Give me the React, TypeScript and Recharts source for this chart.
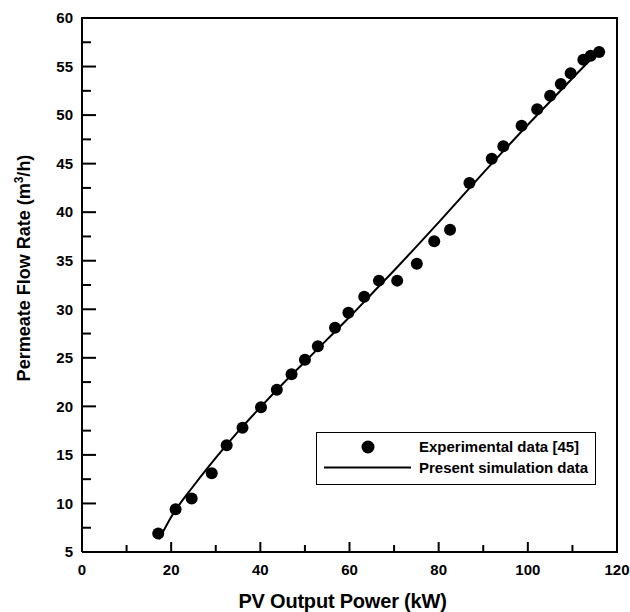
import React from 'react'
import { ComposedChart, Line, Scatter, XAxis, YAxis, Legend, Label } from 'recharts'

// experimental points
const powerExp = [17.1, 21.0, 24.6, 29.1, 32.45, 36.0, 40.15, 43.7, 47.0, 50.0, 52.9, 56.75, 59.75, 63.3, 66.6, 70.7, 75.1, 79.0, 82.55, 86.9, 91.9, 94.5, 98.6, 102.1, 105.0, 107.4, 109.6, 112.45, 114.1, 116.0]
const flowExp = [6.9, 9.4, 10.5, 13.1, 16.0, 17.8, 19.9, 21.7, 23.3, 24.8, 26.2, 28.1, 29.65, 31.3, 32.95, 32.95, 34.7, 37.0, 38.2, 43.0, 45.5, 46.8, 48.9, 50.6, 52.0, 53.2, 54.3, 55.7, 56.1, 56.5]

// simulation curve
const powerSim = [17.3, 20, 25, 30, 35, 40, 45, 50, 55, 60, 65, 70, 75, 80, 85, 90, 95, 100, 105, 110, 116]
const flowSim = [6.3, 8.6, 11.8, 14.7, 17.4, 19.9, 22.3, 24.6, 26.9, 29.2, 31.6, 34.0, 36.45, 38.95, 41.5, 44.05, 46.55, 49.0, 51.4, 53.8, 56.6]

const xTicks = [0, 10, 20, 30, 40, 50, 60, 70, 80, 90, 100, 110, 120]
const yTicks = [5, 7.5, 10, 12.5, 15, 17.5, 20, 22.5, 25, 27.5, 30, 32.5, 35, 37.5, 40, 42.5, 45, 47.5, 50, 52.5, 55, 57.5, 60]

const FONT = 'Arial, "Liberation Sans", Helvetica, sans-serif'

// layout
const W = 630
const H = 612
const MARGIN = { top: 18, right: 13, left: 22, bottom: 20 }
const Y_AXIS_W = 60
const X_AXIS_H = 40
const PLOT_X = MARGIN.left + Y_AXIS_W
const PLOT_W = W - MARGIN.left - MARGIN.right - Y_AXIS_W
const PLOT_H = H - MARGIN.top - MARGIN.bottom - X_AXIS_H

const expData = powerExp.map((p, i) => ({ power: p, flow: flowExp[i] }))
const simData = powerSim.map((p, i) => ({ power: p, flow: flowSim[i] }))

function XTick(props: any) {
  const { x, y, payload } = props
  const major = payload.value % 20 === 0
  const last = payload.value === xTicks[xTicks.length - 1]
  return (
    <g>
      <line x1={x} x2={x} y1={y} y2={y - (major ? 10 : 7)} stroke="#000" strokeWidth={2} />
      {last && <line x1={x} x2={x} y1={y + 1} y2={y - PLOT_H - 1} stroke="#000" strokeWidth={2} />}
      {major && (
        <text x={x} y={y + 22.5} textAnchor="middle" fontFamily={FONT} fontWeight="bold" fontSize={15} fill="#000">
          {payload.value}
        </text>
      )}
    </g>
  )
}

function YTick(props: any) {
  const { x, y, payload } = props
  const major = payload.value % 5 === 0
  const last = payload.value === yTicks[yTicks.length - 1]
  return (
    <g>
      <line x1={x} x2={x + (major ? 14 : 9)} y1={y} y2={y} stroke="#000" strokeWidth={2} />
      {last && <line x1={x - 1} x2={x + PLOT_W + 1} y1={y} y2={y} stroke="#000" strokeWidth={2} />}
      {major && (
        <text x={x - 9} y={y} dy="0.35em" textAnchor="end" fontFamily={FONT} fontWeight="bold" fontSize={15} fill="#000">
          {payload.value}
        </text>
      )}
    </g>
  )
}

function YTitle(props: any) {
  const { viewBox } = props
  const cx = viewBox.x + 8
  const cy = viewBox.y + viewBox.height / 2 - 17
  return (
    <text transform={`translate(${cx}, ${cy}) rotate(-90)`} textAnchor="middle" fontFamily={FONT} fontWeight="bold" fontSize={18} fill="#000">
      Permeate Flow Rate (m
      <tspan fontSize={12} dy={-7}>3</tspan>
      <tspan dy={7}>/h)</tspan>
    </text>
  )
}

function LegendBox() {
  return (
    <svg width={280} height={53} style={{ display: 'block' }}>
      <rect x={0.5} y={0.5} width={279} height={52} fill="#fff" stroke="#000" strokeWidth={1} />
      <circle cx={52} cy={15} r={6.5} fill="#000" />
      <text x={103} y={15} dy="0.35em" fontFamily={FONT} fontWeight="bold" fontSize={15} fill="#000">
        Experimental data [45]
      </text>
      <line x1={8} x2={95} y1={35.5} y2={35.5} stroke="#000" strokeWidth={2} />
      <text x={103} y={35.5} dy="0.35em" fontFamily={FONT} fontWeight="bold" fontSize={15} fill="#000">
        Present simulation data
      </text>
    </svg>
  )
}

export default function App() {
  return (
    <div style={{ position: 'absolute', left: 0, top: 0, width: W, height: H, background: '#fff' }}>
      <ComposedChart width={W} height={H} margin={MARGIN}>
        <XAxis
          dataKey="power"
          type="number"
          domain={[0, 120]}
          ticks={xTicks}
          interval={0}
          tickSize={0}
          tickMargin={0}
          tick={<XTick />}
          tickLine={false}
          height={X_AXIS_H}
          axisLine={{ stroke: '#000', strokeWidth: 2 }}
          allowDataOverflow
        >
          <Label
            value="PV Output Power (kW)"
            position="bottom"
            offset={2}
            dx={-7}
            style={{ fontFamily: FONT, fontWeight: 'bold', fontSize: 20, fill: '#000', letterSpacing: -0.2 }}
          />
        </XAxis>
        <YAxis
          dataKey="flow"
          type="number"
          domain={[5, 60]}
          ticks={yTicks}
          interval={0}
          tickSize={0}
          tickMargin={0}
          tick={<YTick />}
          tickLine={false}
          width={Y_AXIS_W}
          axisLine={{ stroke: '#000', strokeWidth: 2 }}
          allowDataOverflow
        >
          <Label content={<YTitle />} />
        </YAxis>
        <Legend
          layout="horizontal"
          verticalAlign="middle"
          align="center"
          wrapperStyle={{ left: 316, top: 432, width: 280, height: 53 }}
          content={() => <LegendBox />}
        />
        <Line
          data={simData}
          dataKey="flow"
          type="monotone"
          stroke="#000"
          strokeWidth={2}
          dot={false}
          activeDot={false}
          isAnimationActive={false}
          name="Present simulation data"
        />
        <Scatter
          data={expData}
          dataKey="flow"
          fill="#000"
          shape={(p: any) => <circle cx={p.cx} cy={p.cy} r={6} fill="#000" />}
          isAnimationActive={false}
          name="Experimental data [45]"
        />
      </ComposedChart>
      {/* top and right edges of the plot frame */}
      <div
        style={{
          position: 'absolute',
          left: PLOT_X - 1,
          top: MARGIN.top - 1,
          width: PLOT_W + 2,
          height: PLOT_H + 2,
          borderTop: '2px solid #000',
          borderRight: '2px solid #000',
          boxSizing: 'border-box',
          pointerEvents: 'none',
        }}
      />
    </div>
  )
}
